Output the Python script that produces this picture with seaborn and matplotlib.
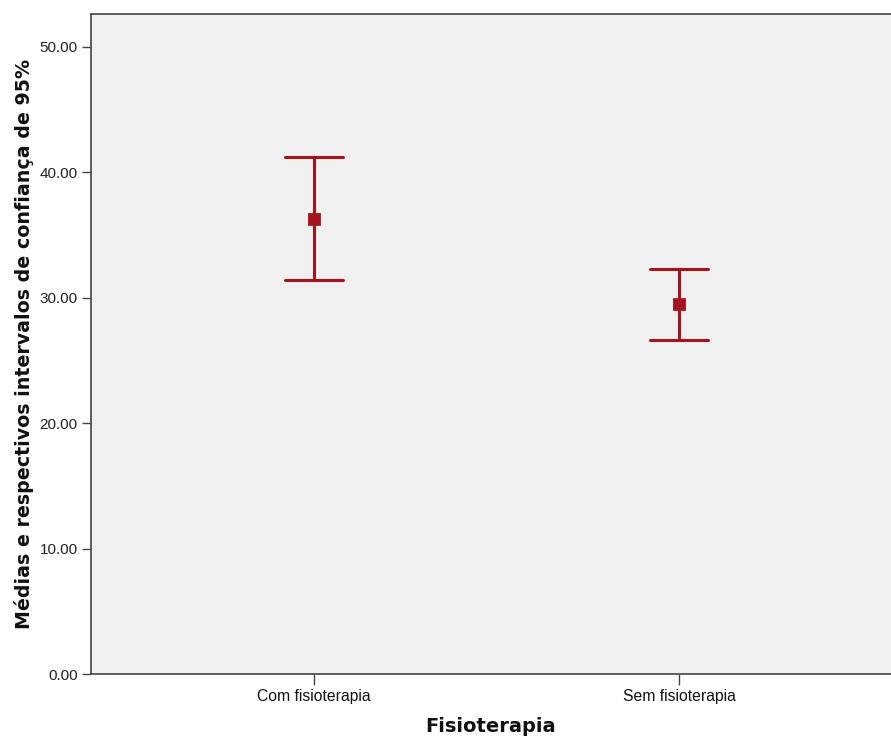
import numpy as np
import pandas as pd
import matplotlib
matplotlib.use("Agg")
import matplotlib.pyplot as plt
import seaborn as sns

# Data
groups = ["Com fisioterapia", "Sem fisioterapia"]
means = [36.27, 29.47]
ci_lower = [31.38, 26.62]
ci_upper = [41.18, 32.26]
y_ticks = [0, 10, 20, 30, 40, 50]

# Long table: lower / mean / upper per group; median = mean, min/max = CI
rows = []
for g, lo, m, hi in zip(groups, ci_lower, means, ci_upper):
    for v in (lo, m, hi):
        rows.append({"Fisioterapia": g, "valor": v})
df = pd.DataFrame(rows)

sns.set_style("white")
plt.rcParams["font.family"] = ["Liberation Sans", "DejaVu Sans"]

fig = plt.figure(figsize=(8.91, 7.40), dpi=100)
ax = fig.add_axes([91 / 891, 1 - 674 / 740, 1 - 91 / 891, (674 - 14) / 740])
ax.set_facecolor("#F0F0F0")

red = "#A5141C"
sns.pointplot(
    data=df, x="Fisioterapia", y="valor", order=groups,
    estimator="median", errorbar=lambda v: (np.min(v), np.max(v)),
    linestyle="none", marker="s", markersize=7.5, color=red,
    capsize=0.16, err_kws={"linewidth": 2.2}, ax=ax,
)

ax.set_xlim(-0.611, 1.581)
ax.set_ylim(0, 52.6)
ax.set_yticks(y_ticks)
ax.set_yticklabels([f"{t:.2f}" for t in y_ticks])

for s in ["left", "bottom", "top"]:
    ax.spines[s].set_visible(True)
    ax.spines[s].set_color("#444444")
    ax.spines[s].set_linewidth(1.2)
ax.spines["right"].set_visible(False)

ax.tick_params(axis="y", direction="out", length=6.5, width=1, color="#444444",
               labelsize=11, labelcolor="#222222", left=True, pad=3.2)
ax.tick_params(axis="x", direction="out", length=8, width=1, color="#444444",
               labelsize=11.3, labelcolor="#111111", bottom=True, pad=3)

ax.set_xlabel("Fisioterapia", fontsize=14, fontweight="bold", color="#111111",
              labelpad=9, family=["DejaVu Sans"])
ax.set_ylabel("Médias e respectivos intervalos de confiança de 95%", fontsize=13.7,
              fontweight="bold", color="#111111", labelpad=4, family=["DejaVu Sans"])

fig.savefig("out.png", dpi=100)
